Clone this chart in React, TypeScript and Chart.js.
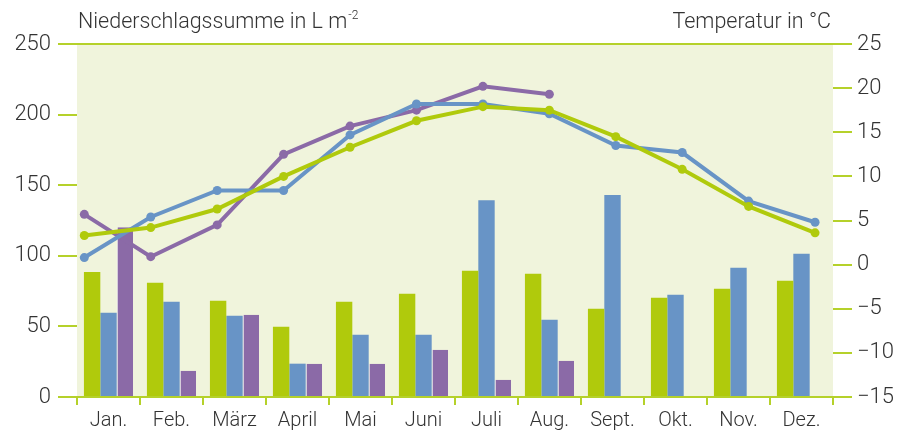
import React, { useEffect, useRef } from "react";
import { Chart, registerables } from "chart.js";

Chart.register(...registerables);

const months = ["Jan.", "Feb.", "März", "April", "Mai", "Juni", "Juli", "Aug.", "Sept.", "Okt.", "Nov.", "Dez."];
const precipGreen = [88.6, 81, 68.2, 49.8, 67.5, 73.2, 89.4, 87.3, 62.5, 70.3, 76.7, 82.4];
const precipBlue = [59.7, 67.5, 57.6, 23.6, 44.1, 44.1, 139.4, 54.7, 143, 72.5, 91.6, 101.5];
const precipPurple = [120.2, 18.6, 58.3, 23.6, 23.6, 33.5, 12.3, 25.7, null, null, null, null];
const tempGreen = [3.3, 4.2, 6.3, 10.0, 13.3, 16.3, 17.9, 17.5, 14.5, 10.8, 6.6, 3.6];
const tempBlue = [0.8, 5.4, 8.4, 8.4, 14.7, 18.2, 18.2, 17.1, 13.5, 12.7, 7.2, 4.8];
const tempPurple = [5.7, 0.9, 4.5, 12.5, 15.7, 17.5, 20.2, 19.3];
const leftTitle = "Niederschlagssumme in L m";
const leftTitleSup = "-2";
const rightTitle = "Temperatur in °C";

const GREEN = "#b0ca0c";
const BLUE = "#6894c6";
const PURPLE = "#8b6aa7";
const AXIS = "#b5d12a";
const BG = "#f0f4dc";
const TEXT = "#333333";
const FONT = "Roboto";

// plot frame shared by both charts
const FRAME = { left: 77, right: 65, top: 44, bottom: 33 };
const TEMP_MIN = -15;
const TEMP_MAX = 25;

const toPts = (arr: number[]) => arr.map((v, i) => ({ x: i, y: v }));

export default function App() {
  const barRef = useRef<HTMLCanvasElement | null>(null);
  const lineRef = useRef<HTMLCanvasElement | null>(null);
  useEffect(() => {
    document.body.style.margin = "0";
    const bgPlugin = {
      id: "bgTitles",
      beforeDraw(chart: any) {
        const { ctx, chartArea } = chart;
        ctx.save();
        ctx.fillStyle = BG;
        ctx.fillRect(chartArea.left, chartArea.top, chartArea.right - chartArea.left, chartArea.bottom - chartArea.top);
        ctx.restore();
      },
      afterDraw(chart: any) {
        const { ctx } = chart;
        ctx.save();
        ctx.fillStyle = TEXT;
        ctx.textBaseline = "alphabetic";
        ctx.font = `300 21.5px ${FONT}`;
        ctx.textAlign = "left";
        ctx.fillText(leftTitle, 78, 28);
        const w = ctx.measureText(leftTitle).width;
        ctx.font = `300 12px ${FONT}`;
        ctx.fillText(leftTitleSup, 78 + w + 1, 19);
        ctx.font = `300 21.5px ${FONT}`;
        ctx.textAlign = "right";
        ctx.fillText(rightTitle, 831, 28);
        ctx.restore();
      },
    };
    const barDs = (label: string, data: (number | null)[], color: string, gap: boolean) => ({
      label,
      data,
      backgroundColor: color,
      borderColor: "#ffffff",
      borderWidth: gap ? { left: 1, top: 0, right: 0, bottom: 0 } : 0,
      categoryPercentage: 0.78,
      barPercentage: 1,
    });
    const barChart = new Chart(barRef.current as HTMLCanvasElement, {
      type: "bar",
      data: {
        labels: months,
        datasets: [
          barDs("N1", precipGreen, GREEN, false),
          barDs("N2", precipBlue, BLUE, false),
          barDs("N3", precipPurple, PURPLE, true),
        ] as any,
      },
      options: {
        animation: false,
        responsive: true,
        maintainAspectRatio: false,
        layout: { padding: { top: FRAME.top, left: 0, right: 0, bottom: 0 } },
        plugins: { legend: { display: false }, tooltip: { enabled: false } },
        scales: {
          x: {
            type: "category",
            offset: true,
            grid: { offset: true, drawOnChartArea: false, tickLength: 8, tickColor: AXIS, lineWidth: 2 },
            border: { color: AXIS, width: 2 },
            ticks: { color: TEXT, font: { family: FONT, size: 20, weight: 300 as any }, padding: 4, maxRotation: 0 },
            afterFit: (s: any) => { s.height = FRAME.bottom; },
          },
          y: {
            position: "left",
            min: 0,
            max: 250,
            ticks: { stepSize: 50, color: TEXT, font: { family: FONT, size: 22, weight: 300 as any }, padding: 7 },
            grid: {
              color: (c: any) => (c.tick && c.tick.value === 250 ? AXIS : "transparent"),
              tickColor: AXIS,
              tickLength: 19,
              lineWidth: 2,
            },
            border: { display: false },
            afterFit: (s: any) => { s.width = FRAME.left; },
          },
          y1: {
            type: "linear",
            position: "right",
            min: TEMP_MIN,
            max: TEMP_MAX,
            ticks: {
              stepSize: 5,
              color: TEXT,
              font: { family: FONT, size: 22, weight: 300 as any },
              padding: 5,
              callback: (v: any) => (Number(v) < 0 ? "\u2212" + Math.abs(Number(v)) : String(v)),
            },
            grid: { drawOnChartArea: false, tickColor: AXIS, tickLength: 19, lineWidth: 2 },
            border: { display: false },
            afterFit: (s: any) => { s.width = FRAME.right; },
          },
        },
      } as any,
      plugins: [bgPlugin],
    });

    const lineDs = (label: string, data: number[], color: string) => ({
      label,
      data: toPts(data),
      borderColor: color,
      backgroundColor: color,
      borderWidth: 4,
      pointRadius: 4.5,
      pointBackgroundColor: color,
      pointBorderWidth: 0,
      tension: 0,
    });
    const lineChart = new Chart(lineRef.current as HTMLCanvasElement, {
      type: "line",
      data: {
        datasets: [
          lineDs("T1", tempGreen, GREEN),
          lineDs("T2", tempBlue, BLUE),
          lineDs("T3", tempPurple, PURPLE),
        ] as any,
      },
      options: {
        animation: false,
        responsive: true,
        maintainAspectRatio: false,
        layout: { padding: { top: FRAME.top, left: FRAME.left, right: FRAME.right, bottom: FRAME.bottom } },
        plugins: { legend: { display: false }, tooltip: { enabled: false } },
        scales: {
          x: { type: "linear", display: false, offset: false, min: -0.11, max: 11.27 },
          y: { type: "linear", display: false, min: TEMP_MIN, max: TEMP_MAX },
        },
      } as any,
    });
    return () => {
      barChart.destroy();
      lineChart.destroy();
    };
  }, []);
  return (
    <div style={{ width: 898, height: 430, position: "relative" }}>
      <div style={{ position: "absolute", left: 0, top: 0, width: 898, height: 430 }}>
        <canvas ref={barRef} />
      </div>
      <div style={{ position: "absolute", left: 0, top: 0, width: 898, height: 430 }}>
        <canvas ref={lineRef} />
      </div>
    </div>
  );
}
